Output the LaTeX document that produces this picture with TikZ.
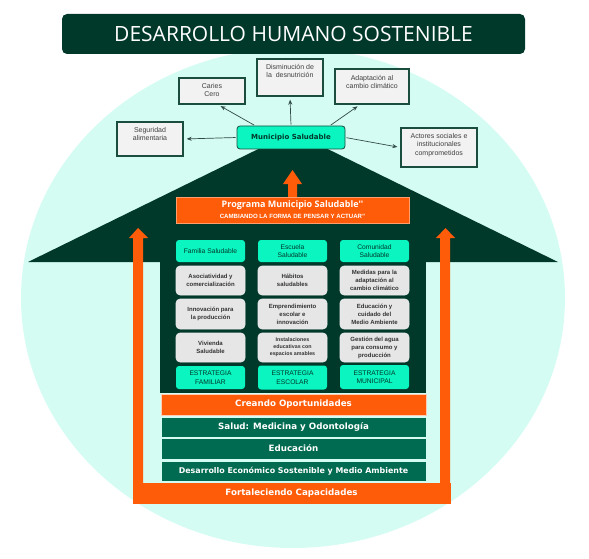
\documentclass[tikz,border=0pt]{standalone}
\usepackage{fontspec}
\setmainfont{Liberation Sans}
\newfontfamily\osans{Open Sans}
\newfontfamily\dvs{DejaVu Sans}
\usetikzlibrary{arrows.meta}
\definecolor{mint}{HTML}{D5FCF3}
\definecolor{dkgreen}{HTML}{00382A}
\definecolor{midgreen}{HTML}{006B50}
\definecolor{orng}{HTML}{FF5C0A}
\definecolor{aqua}{HTML}{0AF5C0}
\definecolor{boxfill}{HTML}{F2F2F2}
\definecolor{boxbd}{HTML}{1B4D3E}
\definecolor{txtgray}{HTML}{404040}
\definecolor{gfill}{HTML}{E6E6E6}
\definecolor{arrowgray}{HTML}{2E4A42}
\newcommand\topbx[4]{\parbox[c][#2][t]{#1}{\centering\vspace*{#3}#4\par}}
\begin{document}
\begin{tikzpicture}[x=1pt,y=-1pt,
  topbox/.style={draw=boxbd, line width=1.3pt, fill=boxfill, inner sep=0pt, text=txtgray,
    font=\fontsize{7}{8.5}\selectfont},
  gbox/.style={draw=white!85!gray, line width=0.6pt, fill=gfill, rounded corners=4pt, inner sep=0pt,
    align=center, text=black!80, font=\bfseries\fontsize{6}{8}\selectfont, minimum width=69pt},
  abox/.style={fill=aqua, rounded corners=3pt, inner sep=0pt, align=center, text=dkgreen,
    font=\fontsize{6.7}{8.5}\selectfont, minimum width=69pt},
  layer/.style={draw=mint, line width=0.6pt, fill=midgreen, inner sep=0pt, text=white,
    font=\dvs\bfseries\fontsize{8.7}{10}\selectfont, minimum width=265pt},
  conn/.style={draw=arrowgray, line width=0.7pt, -{Stealth[length=5pt,width=4pt]}, shorten >=3pt, shorten <=1pt}
]
\useasboundingbox (0,0) rectangle (589,559);
% background ellipse
\fill[mint] (293,298) ellipse [x radius=272pt, y radius=250pt];
% title
\node[fill=dkgreen, rounded corners=5pt, minimum width=463pt, minimum height=40pt, inner sep=0pt,
  text=white, font=\osans\fontsize{21}{24}\selectfont] (title) at (293.5,34) {DESARROLLO HUMANO SOSTENIBLE};
% house
\fill[dkgreen] (28,262) -- (293,132) -- (558,262) -- cycle;
\fill[dkgreen] (160,261) rectangle (426,393);
% orange arrows
\fill[orng] (133,483) -- (133,238) -- (129,238) -- (138,228) -- (148,238) -- (143,238) -- (143,483) -- cycle;
\fill[orng] (440,483) -- (440,238) -- (436,238) -- (445.5,228) -- (455,238) -- (450,238) -- (450,483) -- cycle;
\fill[orng] (288,198) -- (288,184) -- (283,184) -- (292.5,170) -- (302,184) -- (297,184) -- (297,198) -- cycle;
% top boxes
\node[topbox] (caries) at (212,91) {\topbx{66pt}{26pt}{5pt}{Caries\\Cero}};
\node[topbox] (dism) at (290,77.5) {\topbx{66pt}{37pt}{5pt}{Disminución de\\la \ desnutrición}};
\node[topbox] (adapt) at (372,86.5) {\topbx{74pt}{35pt}{6pt}{Adaptación al\\cambio climático}};
\node[topbox] (seg) at (150,139) {\topbx{66pt}{34pt}{5pt}{Seguridad\\alimentaria}};
\node[topbox] (actores) at (439,147.5) {\topbx{76pt}{39pt}{5pt}{Actores sociales e\\institucionales\\comprometidos}};
% municipio
\node[draw=boxbd, line width=0.8pt, fill=aqua, rounded corners=3pt, minimum width=108pt, minimum height=23pt,
  inner sep=0pt, text=dkgreen, font=\dvs\bfseries\fontsize{7}{8}\selectfont] (muni) at (291,137.5) {Municipio Saludable};
\draw[conn] ([xshift=-36pt]muni.north) -- ([xshift=6pt]caries.south);
\draw[conn] (muni.north) -- (dism.south);
\draw[conn] ([xshift=39pt]muni.north) -- ([xshift=-12pt]adapt.south);
\draw[conn] (muni.west) -- (seg.east);
\draw[conn] (muni.east) -- (actores.west);
% programa
\node[draw=orng!60!white, line width=0.5pt, fill=orng, minimum width=233pt, minimum height=26pt, inner sep=0pt,
  align=center, text=white] (prog) at (292.5,210)
  {{\osans\bfseries\fontsize{9}{10}\selectfont Programa Municipio Saludable''}\\[-1pt]
   {\bfseries\fontsize{6.1}{6.5}\selectfont CAMBIANDO LA FORMA DE PENSAR Y ACTUAR''}};
% grid
\node[abox, minimum height=22pt] (h1) at (210.5,251) {Familia Saludable};
\node[abox, minimum height=22pt] (h2) at (292.5,251) {Escuela\\Saludable};
\node[abox, minimum height=22pt] (h3) at (374.5,251) {Comunidad\\Saludable};
\node[gbox, minimum height=29pt] (a1) at (210.5,280.5) {Asociatividad y\\comercialización};
\node[gbox, minimum height=29pt] (a2) at (292.5,280.5) {Hábitos\\saludables};
\node[gbox, minimum height=29pt] (a3) at (374.5,280.5) {Medidas para la\\adaptación al\\cambio climático};
\node[gbox, minimum height=30pt] (b1) at (210.5,314) {Innovación para\\la producción};
\node[gbox, minimum height=30pt] (b2) at (292.5,314) {Emprendimiento\\escolar e\\innovación};
\node[gbox, minimum height=30pt] (b3) at (374.5,314) {Educación y\\cuidado del\\Medio Ambiente};
\node[gbox, minimum height=29pt] (c1) at (210.5,347.5) {Vivienda\\Saludable};
\node[gbox, minimum height=29pt, font=\bfseries\fontsize{5.3}{7}\selectfont] (c2) at (292.5,347.5) {Instalaciones\\educativas con\\espacios amables};
\node[gbox, minimum height=29pt] (c3) at (374.5,347.5) {Gestión del agua\\para consumo y\\producción};
\node[abox, minimum height=23pt] (e1) at (210.5,377.5) {ESTRATEGIA\\FAMILIAR};
\node[abox, minimum height=24pt] (e2) at (292.5,377.5) {ESTRATEGIA\\ESCOLAR};
\node[abox, minimum height=24pt] (e3) at (374.5,377) {ESTRATEGIA\\MUNICIPAL};
% layers
\node[layer, fill=orng, draw=white!70!orng, minimum height=21pt] (crea) at (293.5,404.5) {Creando Oportunidades};
\node[layer, minimum height=20pt] (salud) at (293.5,427) {Salud: Medicina y Odontología};
\node[layer, minimum height=21pt] (educ) at (293.5,448.5) {Educación};
\node[layer, minimum height=20pt, font=\dvs\bfseries\fontsize{7.9}{9}\selectfont] (desa) at (293.5,471) {Desarrollo Económico Sostenible y Medio Ambiente};
\node[layer, fill=orng, draw=orng, minimum width=317pt, minimum height=20pt] (fort) at (291.5,493) {Fortaleciendo Capacidades};
\end{tikzpicture}
\end{document}
